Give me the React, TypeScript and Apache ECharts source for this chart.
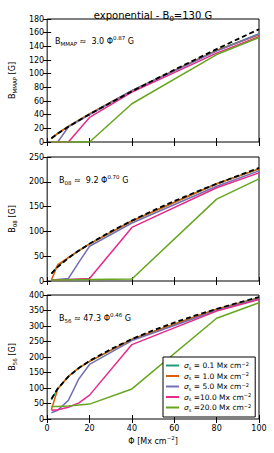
import React, { useEffect, useRef } from "react";
import * as echarts from "echarts";

// Flux density values (x) for the simulated curves
const phi = [2, 5, 10, 15, 20, 40, 80, 100];
// x values for the power-law fit curves
const phiFit = [2, 5, 10, 15, 20, 30, 40, 50, 60, 70, 80, 90, 100];

const sigmaLabels = ["0.1", "1.0", "5.0", "10.0", "20.0"];
const colors = ["#1b9e77", "#d95f02", "#7570b3", "#e7298a", "#66a61e"];

// Panel 1: B_MMAP
const mmapS01 = [5, 12.5, 23, 32, 41, 75, 134, 158];
const mmapS1 = [5, 12.5, 23, 32, 41, 75, 134, 157];
const mmapS5 = [0, 0, 22, 31, 40, 75, 133, 158];
const mmapS10 = [0, 0, 0, 18, 36, 73, 130, 154];
const mmapS20 = [0, 0, 0, 0, 0, 56, 128, 153];
const mmapFit = [5.5, 12.3, 22.2, 31.6, 40.5, 57.6, 74.1, 90, 105.6, 120.8, 135.9, 150.6, 165];

// Panel 2: B_08
const b08S01 = [15, 30, 47, 61, 75, 121, 196, 226];
const b08S1 = [2, 33, 47, 61, 75, 121, 196, 226];
const b08S5 = [1, 3, 5, 38, 70, 117, 191, 222];
const b08S10 = [2, 2.5, 3, 4, 5, 108, 188, 218];
const b08S20 = [2, 2, 2.5, 3, 3, 4, 165, 206];
const b08Fit = [15, 28.4, 46.2, 61.4, 75, 99.6, 121.8, 142, 161, 179, 196, 212, 228];

// Panel 3: B_56
const b56S01 = [62, 98, 137, 165, 186, 257, 354, 391];
const b56S1 = [30, 97, 138, 165, 186, 257, 354, 390];
const b56S5 = [20, 28, 60, 130, 176, 253, 350, 388];
const b56S10 = [28, 30, 38, 52, 77, 240, 348, 385];
const b56S20 = [40, 40, 42, 45, 48, 97, 325, 375];
const b56Fit = [65, 98.3, 136.5, 164.8, 187.6, 225, 258, 286, 311, 334, 355, 375, 393];

const yMax = [180, 250, 400];
const yInterval = [20, 50, 50];
const ySub = ["MMAP", "08", "56"];
const fitText = [
  ["B", "MMAP", " ≈  3.0 ", "0.87", " G"],
  ["B", "08", " ≈  9.2 ", "0.70", " G"],
  ["B", "56", " ≈ 47.3 ", "0.46", " G"],
];

const panels = [
  { sims: [mmapS01, mmapS1, mmapS5, mmapS10, mmapS20], fit: mmapFit },
  { sims: [b08S01, b08S1, b08S5, b08S10, b08S20], fit: b08Fit },
  { sims: [b56S01, b56S1, b56S5, b56S10, b56S20], fit: b56Fit },
];

const FONT = "DejaVu Sans";
const grids = [
  { left: 38, top: 19, width: 221, height: 123 },
  { left: 38, top: 157, width: 221, height: 124 },
  { left: 38, top: 295, width: 221, height: 124 },
];

const mk = (size: number, lh: number, va: string, extra: any = {}) => ({
  fontSize: size, fontFamily: FONT, color: "#000", fill: "#000", fontWeight: "normal",
  lineHeight: lh, verticalAlign: va, ...extra,
});

const richBase = {
  b: mk(8, 12, "middle"),
  f: mk(8, 12, "middle", { fontFamily: "DejaVu Sans, Liberation Sans" }),
  s: mk(5.5, 12, "bottom"),
  p: mk(5.5, 12, "top"),
};

export default function App() {
  const ref = useRef<HTMLDivElement>(null);
  useEffect(() => {
    document.body.style.margin = "0";
    const chart = echarts.init(ref.current!, undefined, { renderer: "svg" });

    const xAxis: any[] = [];
    const yAxis: any[] = [];
    const series: any[] = [];
    const graphic: any[] = [];

    grids.forEach((g, gi) => {
      const tick = { show: true, inside: true, length: 4, lineStyle: { color: "#000", width: 1 } };
      xAxis.push({
        type: "value", gridIndex: gi, min: 0, max: 100, interval: 20, position: "bottom",
        axisLine: { show: false }, axisTick: tick, splitLine: { show: false },
        axisLabel: { show: gi === 2, fontSize: 8, fontFamily: FONT, color: "#000", margin: 5 },
        name: gi === 2 ? "{b|Φ [Mx cm}{p|−2}{b|]}" : "",
        nameLocation: "middle", nameGap: 16,
        nameTextStyle: { rich: richBase },
      });
      xAxis.push({
        type: "value", gridIndex: gi, min: 0, max: 100, interval: 20, position: "top",
        axisLine: { show: false }, axisTick: tick, splitLine: { show: false },
        axisLabel: { show: false },
      });
      yAxis.push({
        type: "value", gridIndex: gi, min: 0, max: yMax[gi], interval: yInterval[gi], position: "left",
        axisLine: { show: false }, axisTick: tick, splitLine: { show: false },
        axisLabel: { fontSize: 8, fontFamily: FONT, color: "#000", margin: 3 },
        name: `{b|B}{s|${ySub[gi]}}{b| [G]}`,
        nameLocation: "middle", nameGap: 21, nameRotate: 90,
        nameTextStyle: { rich: richBase },
      });
      yAxis.push({
        type: "value", gridIndex: gi, min: 0, max: yMax[gi], interval: yInterval[gi], position: "right",
        axisLine: { show: false }, axisTick: tick, splitLine: { show: false },
        axisLabel: { show: false },
      });

      const p = panels[gi];
      p.sims.forEach((vals, si) => {
        series.push({
          type: "line", name: sigmaLabels[si], xAxisIndex: gi * 2, yAxisIndex: gi * 2,
          data: phi.map((x, k) => [x, vals[k]]),
          showSymbol: false, symbol: "none",
          lineStyle: { color: colors[si], width: 1.5 }, itemStyle: { color: colors[si] },
          z: 2 + si,
        });
      });
      series.push({
        type: "line", name: "fit" + gi, xAxisIndex: gi * 2, yAxisIndex: gi * 2,
        data: phiFit.map((x, k) => [x, p.fit[k]]),
        showSymbol: false, symbol: "none",
        lineStyle: { color: "#000", width: 1.8, type: [5, 3] },
        z: 10,
      });

      const t = fitText[gi];
      graphic.push({
        type: "text",
        left: gi === 0 ? 55 : 59,
        top: [35, 174, 312][gi],
        style: {
          text: `{b|${t[0]}}{s|${t[1]}}{b|${t[2]}}{f|Φ}{p|${t[3]}}{b|${t[4]}}`,
          fill: "#000",
          rich: richBase,
        },
        z: 20,
      });
    });

    const option: any = {
      animation: false,
      backgroundColor: "#fff",
      title: {
        text: "{t|exponential - B}{ts|0}{t|=130 G}",
        left: 148, textAlign: "center", top: 3,
        textStyle: {
          fontWeight: "normal",
          rich: {
            t: mk(10, 14, "middle"),
            ts: mk(7, 14, "bottom"),
          },
        },
      },
      grid: grids.map((g) => ({ ...g, show: true, borderColor: "#000", borderWidth: 1, backgroundColor: "transparent" })),
      xAxis,
      yAxis,
      series,
      graphic,
      legend: {
        data: sigmaLabels,
        orient: "vertical",
        left: 163, top: 357,
        backgroundColor: "#fff",
        borderColor: "#000", borderWidth: 1, borderRadius: 0,
        padding: [4, 4, 5, 3],
        itemGap: 1.5,
        itemWidth: 13, itemHeight: 2,
        icon: "rect",
        z: 30,
        formatter: (name: string) => {
          const eq = name.length >= 4 ? "=" : "= ";
          return `{i|σ}{s|s}{b| ${eq}${name} Mx cm}{p|−2}`;
        },
        textStyle: {
          padding: [0, 0, 0, 0],
          rich: {
            b: mk(7.5, 9, "middle"),
            s: mk(5, 9, "bottom"),
            p: mk(5, 9, "top"),
            i: mk(7.5, 9, "middle", { fontStyle: "italic" }),
          },
        },
      },
    };
    chart.setOption(option);
    return () => chart.dispose();
  }, []);
  return <div ref={ref} style={{ width: 274, height: 453 }} />;
}
